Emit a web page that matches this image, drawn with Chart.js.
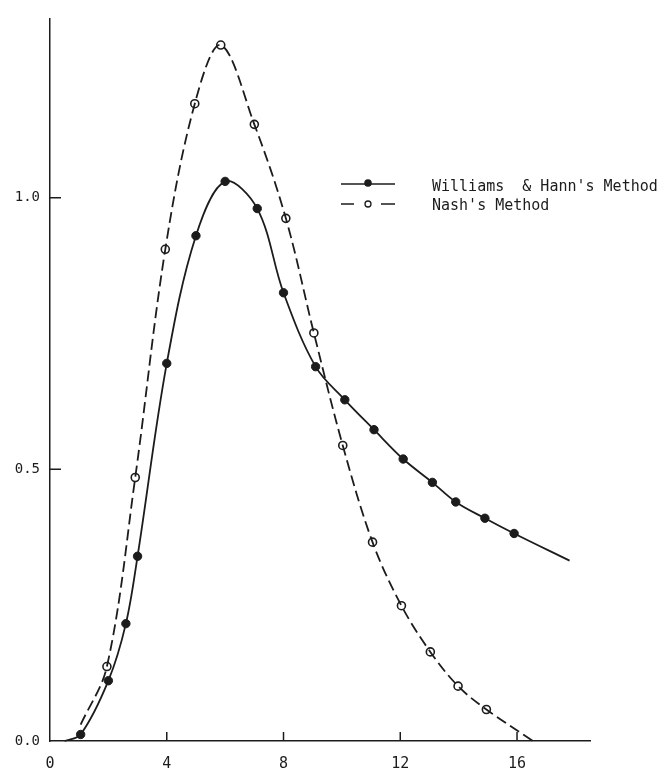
<!DOCTYPE html>
<html>
<head>
<meta charset="utf-8">
<script src="https://cdn.jsdelivr.net/npm/chart.js@4.4.1/dist/chart.umd.min.js"></script>
<style>
  body { margin: 0; background: #ffffff; }
  canvas { display: block; }
</style>
</head>
<body>
<canvas id="hydroChart" width="671" height="781"></canvas>
<script>
// values
const xTicks = [0, 4, 8, 12, 16];
const yTicks = [0, 0.5, 1.0];

const whX = [1.05, 2.0, 2.6, 3.0, 4.0, 5.0, 6.0, 7.1, 8.0, 9.1, 10.1, 11.1, 12.1, 13.1, 13.9, 14.9, 15.9];
const whY = [0.012, 0.111, 0.216, 0.340, 0.695, 0.930, 1.030, 0.980, 0.825, 0.689, 0.628, 0.573, 0.519, 0.476, 0.440, 0.410, 0.382];
const whStart = [0.5, 0.0];
const whEnd = [17.8, 0.332];

const nashX = [1.95, 2.92, 3.95, 4.96, 5.85, 7.0, 8.08, 9.04, 10.03, 11.05, 12.04, 13.03, 13.98, 14.95];
const nashY = [0.137, 0.485, 0.905, 1.173, 1.281, 1.135, 0.962, 0.751, 0.544, 0.366, 0.249, 0.164, 0.101, 0.058];
const nashStart = [1.05, 0.03];
const nashEnd = [16.55, 0.0];

const ink = "#1c1c1c";
const fonte = "'DejaVu Sans Mono', monospace";

const toPts = (xs, ys) => xs.map((v, i) => ({ x: v, y: ys[i] }));
const whPoints = toPts(whX, whY);
const nashPoints = toPts(nashX, nashY);
const whCurve = [{ x: whStart[0], y: whStart[1] }, ...whPoints, { x: whEnd[0], y: whEnd[1] }];
const nashCurve = [{ x: nashStart[0], y: nashStart[1] }, ...nashPoints, { x: nashEnd[0], y: nashEnd[1] }];

// tick marks point into the plot, and the legend sits inside it
const inwardTicks = {
  id: "inwardTicks",
  afterDraw(chart) {
    const { ctx, scales: { x, y } } = chart;
    ctx.save();
    ctx.strokeStyle = ink;
    ctx.lineWidth = 1.5;
    ctx.beginPath();
    xTicks.forEach((v) => {
      if (v === 0) return;
      const px = x.getPixelForValue(v);
      ctx.moveTo(px, y.bottom);
      ctx.lineTo(px, y.bottom - 9);
    });
    yTicks.forEach((v) => {
      if (v === 0) return;
      const py = y.getPixelForValue(v);
      ctx.moveTo(x.left, py);
      ctx.lineTo(x.left + 11, py);
    });
    ctx.stroke();

    // legend
    ctx.lineWidth = 1.6;
    ctx.beginPath();
    ctx.moveTo(341, 184);
    ctx.lineTo(395, 184);
    ctx.moveTo(341, 204);
    ctx.lineTo(354, 204);
    ctx.moveTo(381, 204);
    ctx.lineTo(395, 204);
    ctx.stroke();
    ctx.fillStyle = ink;
    ctx.beginPath();
    ctx.arc(368, 183, 3.8, 0, Math.PI * 2);
    ctx.fill();
    ctx.fillStyle = "#ffffff";
    ctx.lineWidth = 1.3;
    ctx.beginPath();
    ctx.arc(368, 204, 3, 0, Math.PI * 2);
    ctx.fill();
    ctx.stroke();

    ctx.fillStyle = ink;
    ctx.font = "15px " + fonte;
    ctx.textBaseline = "middle";
    ctx.fillText("Williams  & Hann's Method", 432, 187);
    ctx.fillText("Nash's Method", 432, 206);
    ctx.restore();
  },
};

const chart = new Chart(document.getElementById("hydroChart"), {
  type: "scatter",
  data: {
    datasets: [
      {
        label: "Williams & Hann's Method curve",
        data: whCurve,
        showLine: true,
        borderColor: ink,
        borderWidth: 1.8,
        pointRadius: 0,
        tension: 0.35,
        clip: false,
      },
      {
        label: "Nash's Method curve",
        data: nashCurve,
        showLine: true,
        borderColor: ink,
        borderWidth: 1.8,
        borderDash: [11, 5],
        pointRadius: 0,
        tension: 0.35,
        clip: false,
      },
      {
        label: "Williams & Hann's Method",
        data: whPoints,
        pointRadius: 4.2,
        pointBackgroundColor: ink,
        pointBorderColor: ink,
        pointBorderWidth: 1,
        clip: false,
      },
      {
        label: "Nash's Method",
        data: nashPoints,
        pointRadius: 4,
        pointBackgroundColor: "#ffffff",
        pointBorderColor: ink,
        pointBorderWidth: 1.6,
        clip: false,
      },
    ],
  },
  options: {
    responsive: false,
    animation: false,
    events: [],
    layout: {
      padding: { top: 12, right: 81, left: 0, bottom: 0 },
    },
    plugins: {
      legend: { display: false },
      tooltip: { enabled: false },
    },
    scales: {
      x: {
        type: "linear",
        min: 0,
        max: 18.5,
        afterFit: (scale) => { scale.height = 40; },
        afterBuildTicks: (scale) => { scale.ticks = xTicks.map((v) => ({ value: v })); },
        grid: { display: false, drawTicks: false },
        border: { display: true, color: ink, width: 1.5 },
        ticks: {
          color: ink,
          padding: 14,
          maxRotation: 0,
          font: { family: fonte, size: 15 },
        },
      },
      y: {
        type: "linear",
        min: 0,
        max: 1.33,
        afterFit: (scale) => { scale.width = 50; },
        afterBuildTicks: (scale) => { scale.ticks = yTicks.map((v) => ({ value: v })); },
        grid: { display: false, drawTicks: false },
        border: { display: true, color: ink, width: 1.5 },
        ticks: {
          color: ink,
          padding: 10,
          font: { family: fonte, size: 14 },
          callback: (v) => Number(v).toFixed(1),
        },
      },
    },
  },
  plugins: [inwardTicks],
});
</script>
</body>
</html>
